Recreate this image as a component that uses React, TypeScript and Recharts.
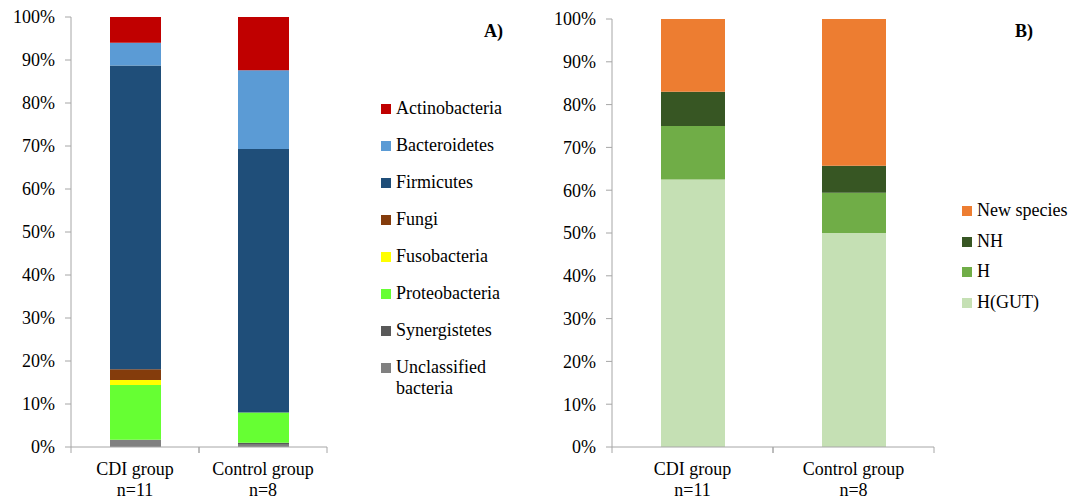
import React from "react";
import { BarChart, Bar, XAxis, YAxis } from "recharts";

const categories = ["CDI group", "Control group"];
const sampleSizes = ["n=11", "n=8"];
const yTicks = [0, 10, 20, 30, 40, 50, 60, 70, 80, 90, 100];

// Panel A (stack order bottom -> top)
const unclassified = [1.7, 0.5];
const synergistetes = [0, 0.5];
const proteobacteria = [12.7, 7.0];
const fusobacteria = [1.2, 0];
const fungi = [2.5, 0];
const firmicutes = [70.6, 61.3];
const bacteroidetes = [5.3, 18.3];
const actinobacteria = [6.0, 12.4];

// Panel B (stack order bottom -> top)
const hGut = [62.5, 50.0];
const hOnly = [12.5, 9.4];
const nhOnly = [8.0, 6.3];
const newSpecies = [17.0, 34.3];

const seriesA = [
  { key: "unclassified", name: "Unclassified bacteria", values: unclassified, color: "#808080" },
  { key: "synergistetes", name: "Synergistetes", values: synergistetes, color: "#595959" },
  { key: "proteobacteria", name: "Proteobacteria", values: proteobacteria, color: "#66FF33" },
  { key: "fusobacteria", name: "Fusobacteria", values: fusobacteria, color: "#FFFF00" },
  { key: "fungi", name: "Fungi", values: fungi, color: "#843C0C" },
  { key: "firmicutes", name: "Firmicutes", values: firmicutes, color: "#1F4E79" },
  { key: "bacteroidetes", name: "Bacteroidetes", values: bacteroidetes, color: "#5B9BD5" },
  { key: "actinobacteria", name: "Actinobacteria", values: actinobacteria, color: "#C00000" },
];

const seriesB = [
  { key: "hgut", name: "H(GUT)", values: hGut, color: "#C5E0B4" },
  { key: "h", name: "H", values: hOnly, color: "#70AD47" },
  { key: "nh", name: "NH", values: nhOnly, color: "#375623" },
  { key: "newsp", name: "New species", values: newSpecies, color: "#ED7D31" },
];

const buildRows = (series: typeof seriesA) =>
  categories.map((c, i) => {
    const row: any = { cat: c, n: sampleSizes[i] };
    series.forEach((s) => (row[s.key] = s.values[i]));
    return row;
  });

const dataA = buildRows(seriesA);
const dataB = buildRows(seriesB);

const FONT = "Liberation Serif";
const AXIS_COLOR = "#a6a6a6";

const XTick = (props: any) => {
  const { x, y, payload, index } = props;
  const off = payload && payload.offset != null ? payload.offset : 0;
  return (
    <g>
      <line x1={x - off} x2={x - off} y1={y} y2={y + 6} stroke={AXIS_COLOR} />
      <line x1={x + off} x2={x + off} y1={y} y2={y + 6} stroke={AXIS_COLOR} />
      <text x={x} y={y + 28} textAnchor="middle" fontSize={18} fontFamily={FONT} fill="#000">
        {payload.value}
      </text>
      <text x={x} y={y + 49} textAnchor="middle" fontSize={18} fontFamily={FONT} fill="#000">
        {sampleSizes[index]}
      </text>
    </g>
  );
};

const Panel = ({ data, series, width, margin, yWidth, barSize }: any) => (
  <BarChart width={width} height={500} data={data} margin={margin} style={{ fontFamily: FONT }}>
    <XAxis
      dataKey="cat"
      height={53}
      stroke={AXIS_COLOR}
      tickLine={false}
      tickSize={0}
      tickMargin={0}
      interval={0}
      tick={<XTick />}
    />
    <YAxis
      width={yWidth}
      domain={[0, 100]}
      ticks={yTicks}
      allowDataOverflow
      tickFormatter={(v: number) => `${v}%`}
      stroke={AXIS_COLOR}
      tickSize={6}
      tickMargin={10}
      tick={{ fontSize: 18, fontFamily: FONT, fill: "#000" }}
    />
    {series.map((s: any) => (
      <Bar
        key={s.key}
        dataKey={s.key}
        name={s.name}
        stackId="a"
        fill={s.color}
        barSize={barSize}
        isAnimationActive={false}
      />
    ))}
  </BarChart>
);

const LegendBox = ({ items, left, top, spacing }: any) => (
  <div style={{ position: "absolute", left, top, fontFamily: FONT, fontSize: 18, color: "#000" }}>
    {items.map((s: any, i: number) => (
      <div
        key={s.key}
        style={{ position: "absolute", top: i * spacing, left: 0, display: "flex", alignItems: "flex-start", whiteSpace: "nowrap" }}
      >
        <div style={{ width: 10, height: 10, background: s.color, marginTop: 6, marginRight: 5, flex: "none" }} />
        <div style={{ lineHeight: "21px" }}>
          {s.name === "Unclassified bacteria" ? (
            <>
              Unclassified
              <br />
              bacteria
            </>
          ) : (
            s.name
          )}
        </div>
      </div>
    ))}
  </div>
);

export default function App() {
  return (
    <div style={{ position: "absolute", left: 0, top: 0, width: 1083, height: 500, background: "#fff", overflow: "hidden", fontFamily: FONT }}>
      <div style={{ position: "absolute", left: 0, top: 0 }}>
        <Panel data={dataA} series={seriesA} width={340} margin={{ top: 17, right: 13, bottom: 0, left: 0 }} yWidth={71} barSize={51} />
      </div>
      <div style={{ position: "absolute", left: 540, top: 0 }}>
        <Panel data={dataB} series={seriesB} width={400} margin={{ top: 19, right: 6, bottom: 0, left: 0 }} yWidth={72} barSize={64} />
      </div>
      <LegendBox items={[...seriesA].reverse()} left={381} top={98} spacing={37} />
      <LegendBox items={[...seriesB].reverse()} left={962} top={200} spacing={30.6} />
      <div style={{ position: "absolute", left: 484, top: 21, fontFamily: FONT, fontSize: 18, fontWeight: "bold" }}>A)</div>
      <div style={{ position: "absolute", left: 1015, top: 21, fontFamily: FONT, fontSize: 18, fontWeight: "bold" }}>B)</div>
    </div>
  );
}
